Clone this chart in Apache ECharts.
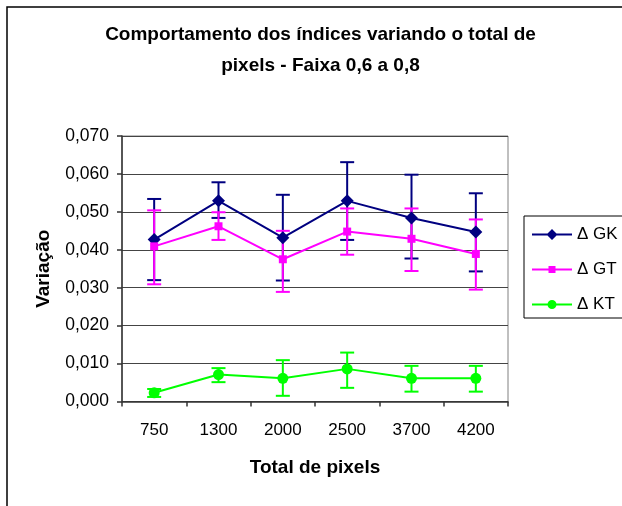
<!DOCTYPE html>
<html>
<head>
<meta charset="utf-8">
<script src="https://cdn.jsdelivr.net/npm/echarts@6/dist/echarts.min.js"></script>
<style>
  html, body { margin: 0; padding: 0; background: #fff; }
  #chart { width: 622px; height: 506px; }
</style>
</head>
<body>
<div id="chart"></div>
<script>
// categorias (total de pixels)
const categories = ['750', '1300', '2000', '2500', '3700', '4200'];

// valores medios
const gkValues = [0.0427, 0.0529, 0.0432, 0.0529, 0.0484, 0.0447];
const gtValues = [0.0409, 0.0462, 0.0375, 0.0448, 0.0429, 0.0389];
const ktValues = [0.0023, 0.0071, 0.0061, 0.0086, 0.0061, 0.0061];

// barras de erro (limite inferior / superior)
const gkLow = [0.0320, 0.0484, 0.0319, 0.0426, 0.0377, 0.0343];
const gkHigh = [0.0534, 0.0578, 0.0545, 0.0631, 0.0598, 0.0549];
const gtLow = [0.0309, 0.0426, 0.0289, 0.0387, 0.0344, 0.0295];
const gtHigh = [0.0504, 0.0499, 0.0450, 0.0509, 0.0509, 0.0480];
const ktLow = [0.0012, 0.0051, 0.0015, 0.0036, 0.0026, 0.0026];
const ktHigh = [0.0033, 0.0088, 0.0109, 0.0129, 0.0094, 0.0094];

const FONT = 'Liberation Sans, Arial, sans-serif';

const fmt = (v) => v.toFixed(3).replace('.', ',');

// icones da legenda: linha + marcador (40 x 14)
const LINE = 'M0 6 L40 6 L40 8 L0 8 Z ';
const ICON_GK = 'path://' + LINE + 'M20 1.5 L25.5 7 L20 12.5 L14.5 7 Z';
const ICON_GT = 'path://' + LINE + 'M16.5 3.5 L23.5 3.5 L23.5 10.5 L16.5 10.5 Z';
const ICON_KT = 'path://' + LINE +
  'M24.5 7 A4.5 4.5 0 1 1 15.5 7 A4.5 4.5 0 1 1 24.5 7 Z';

/**
 * serie custom para desenhar as barras de erro
 */
const errorSeries = (name, low, high, color) => ({
  name: name + '_err',
  type: 'custom',
  z: 1,
  silent: true,
  data: low.map((l, i) => [i, l, high[i]]),
  renderItem: (params, api) => {
    const x = api.value(0);
    const lo = api.coord([x, api.value(1)]);
    const hi = api.coord([x, api.value(2)]);
    const w = 7;
    const style = { stroke: color, lineWidth: 2 };
    return {
      type: 'group',
      children: [
        { type: 'line', shape: { x1: lo[0], y1: lo[1], x2: hi[0], y2: hi[1] }, style },
        { type: 'line', shape: { x1: hi[0] - w, y1: hi[1], x2: hi[0] + w, y2: hi[1] }, style },
        { type: 'line', shape: { x1: lo[0] - w, y1: lo[1], x2: lo[0] + w, y2: lo[1] }, style },
      ],
    };
  },
});

const lineSeries = (name, data, color, symbol, size) => ({
  name,
  type: 'line',
  z: 3,
  data,
  symbol,
  symbolSize: size,
  showAllSymbol: true,
  itemStyle: { color },
  lineStyle: { color, width: 2 },
});

const chart = echarts.init(document.getElementById('chart'));

chart.setOption({
  backgroundColor: '#fff',
  animation: false,
  graphic: [
    {
      type: 'rect',
      shape: { x: 7, y: 7, width: 700, height: 600 },
      style: { fill: 'none', stroke: '#000', lineWidth: 1.5 },
      z: -10,
    },
    {
      type: 'text',
      x: 320.5,
      y: 50.5,
      style: {
        text: 'Comportamento dos índices variando o total de\npixels - Faixa 0,6 a 0,8',
        font: 'bold 19px ' + FONT,
        fill: '#000',
        align: 'center',
        verticalAlign: 'middle',
        lineHeight: 31,
      },
    },
  ],
  legend: {
    orient: 'vertical',
    left: 524,
    top: 216,
    padding: [10, 20, 5, 8],
    itemGap: 18,
    itemWidth: 40,
    itemHeight: 14,
    borderColor: '#000',
    borderWidth: 1,
    backgroundColor: '#fff',
    data: [
      { name: 'Δ GK', icon: ICON_GK },
      { name: 'Δ GT', icon: ICON_GT },
      { name: 'Δ KT', icon: ICON_KT },
    ],
    textStyle: { fontFamily: FONT, fontSize: 17, color: '#000' },
  },
  grid: {
    left: 122,
    right: 114,
    top: 136,
    bottom: 104.5,
    show: true,
    borderColor: '#808080',
    borderWidth: 1,
    backgroundColor: '#fff',
  },
  xAxis: {
    type: 'category',
    data: categories,
    name: 'Total de pixels',
    nameLocation: 'middle',
    nameGap: 57,
    nameTextStyle: { fontFamily: FONT, fontSize: 19, fontWeight: 'bold', color: '#000' },
    axisLine: { lineStyle: { color: '#333', width: 1.5 } },
    axisTick: { show: true, length: 5, lineStyle: { color: '#333', width: 1.5 } },
    axisLabel: { fontFamily: FONT, fontSize: 17, color: '#000', margin: 20 },
    splitLine: { show: false },
  },
  yAxis: {
    type: 'value',
    min: 0,
    max: 0.07,
    interval: 0.01,
    name: 'Variação',
    nameLocation: 'middle',
    nameRotate: 90,
    nameGap: 69,
    nameTextStyle: { fontFamily: FONT, fontSize: 19, fontWeight: 'bold', color: '#000' },
    axisLine: { show: true, lineStyle: { color: '#333', width: 1.5 } },
    axisTick: { show: true, length: 5, lineStyle: { color: '#333', width: 1.5 } },
    axisLabel: { fontFamily: FONT, fontSize: 17.5, color: '#000', margin: 13, formatter: fmt },
    splitLine: { show: true, lineStyle: { color: '#444', width: 1 } },
  },
  series: [
    errorSeries('Δ GK', gkLow, gkHigh, '#000080'),
    errorSeries('Δ GT', gtLow, gtHigh, '#FF00FF'),
    errorSeries('Δ KT', ktLow, ktHigh, '#00FF00'),
    lineSeries('Δ GK', gkValues, '#000080', 'diamond', 13),
    lineSeries('Δ GT', gtValues, '#FF00FF', 'rect', 8),
    lineSeries('Δ KT', ktValues, '#00FF00', 'circle', 11),
  ],
});
</script>
</body>
</html>
